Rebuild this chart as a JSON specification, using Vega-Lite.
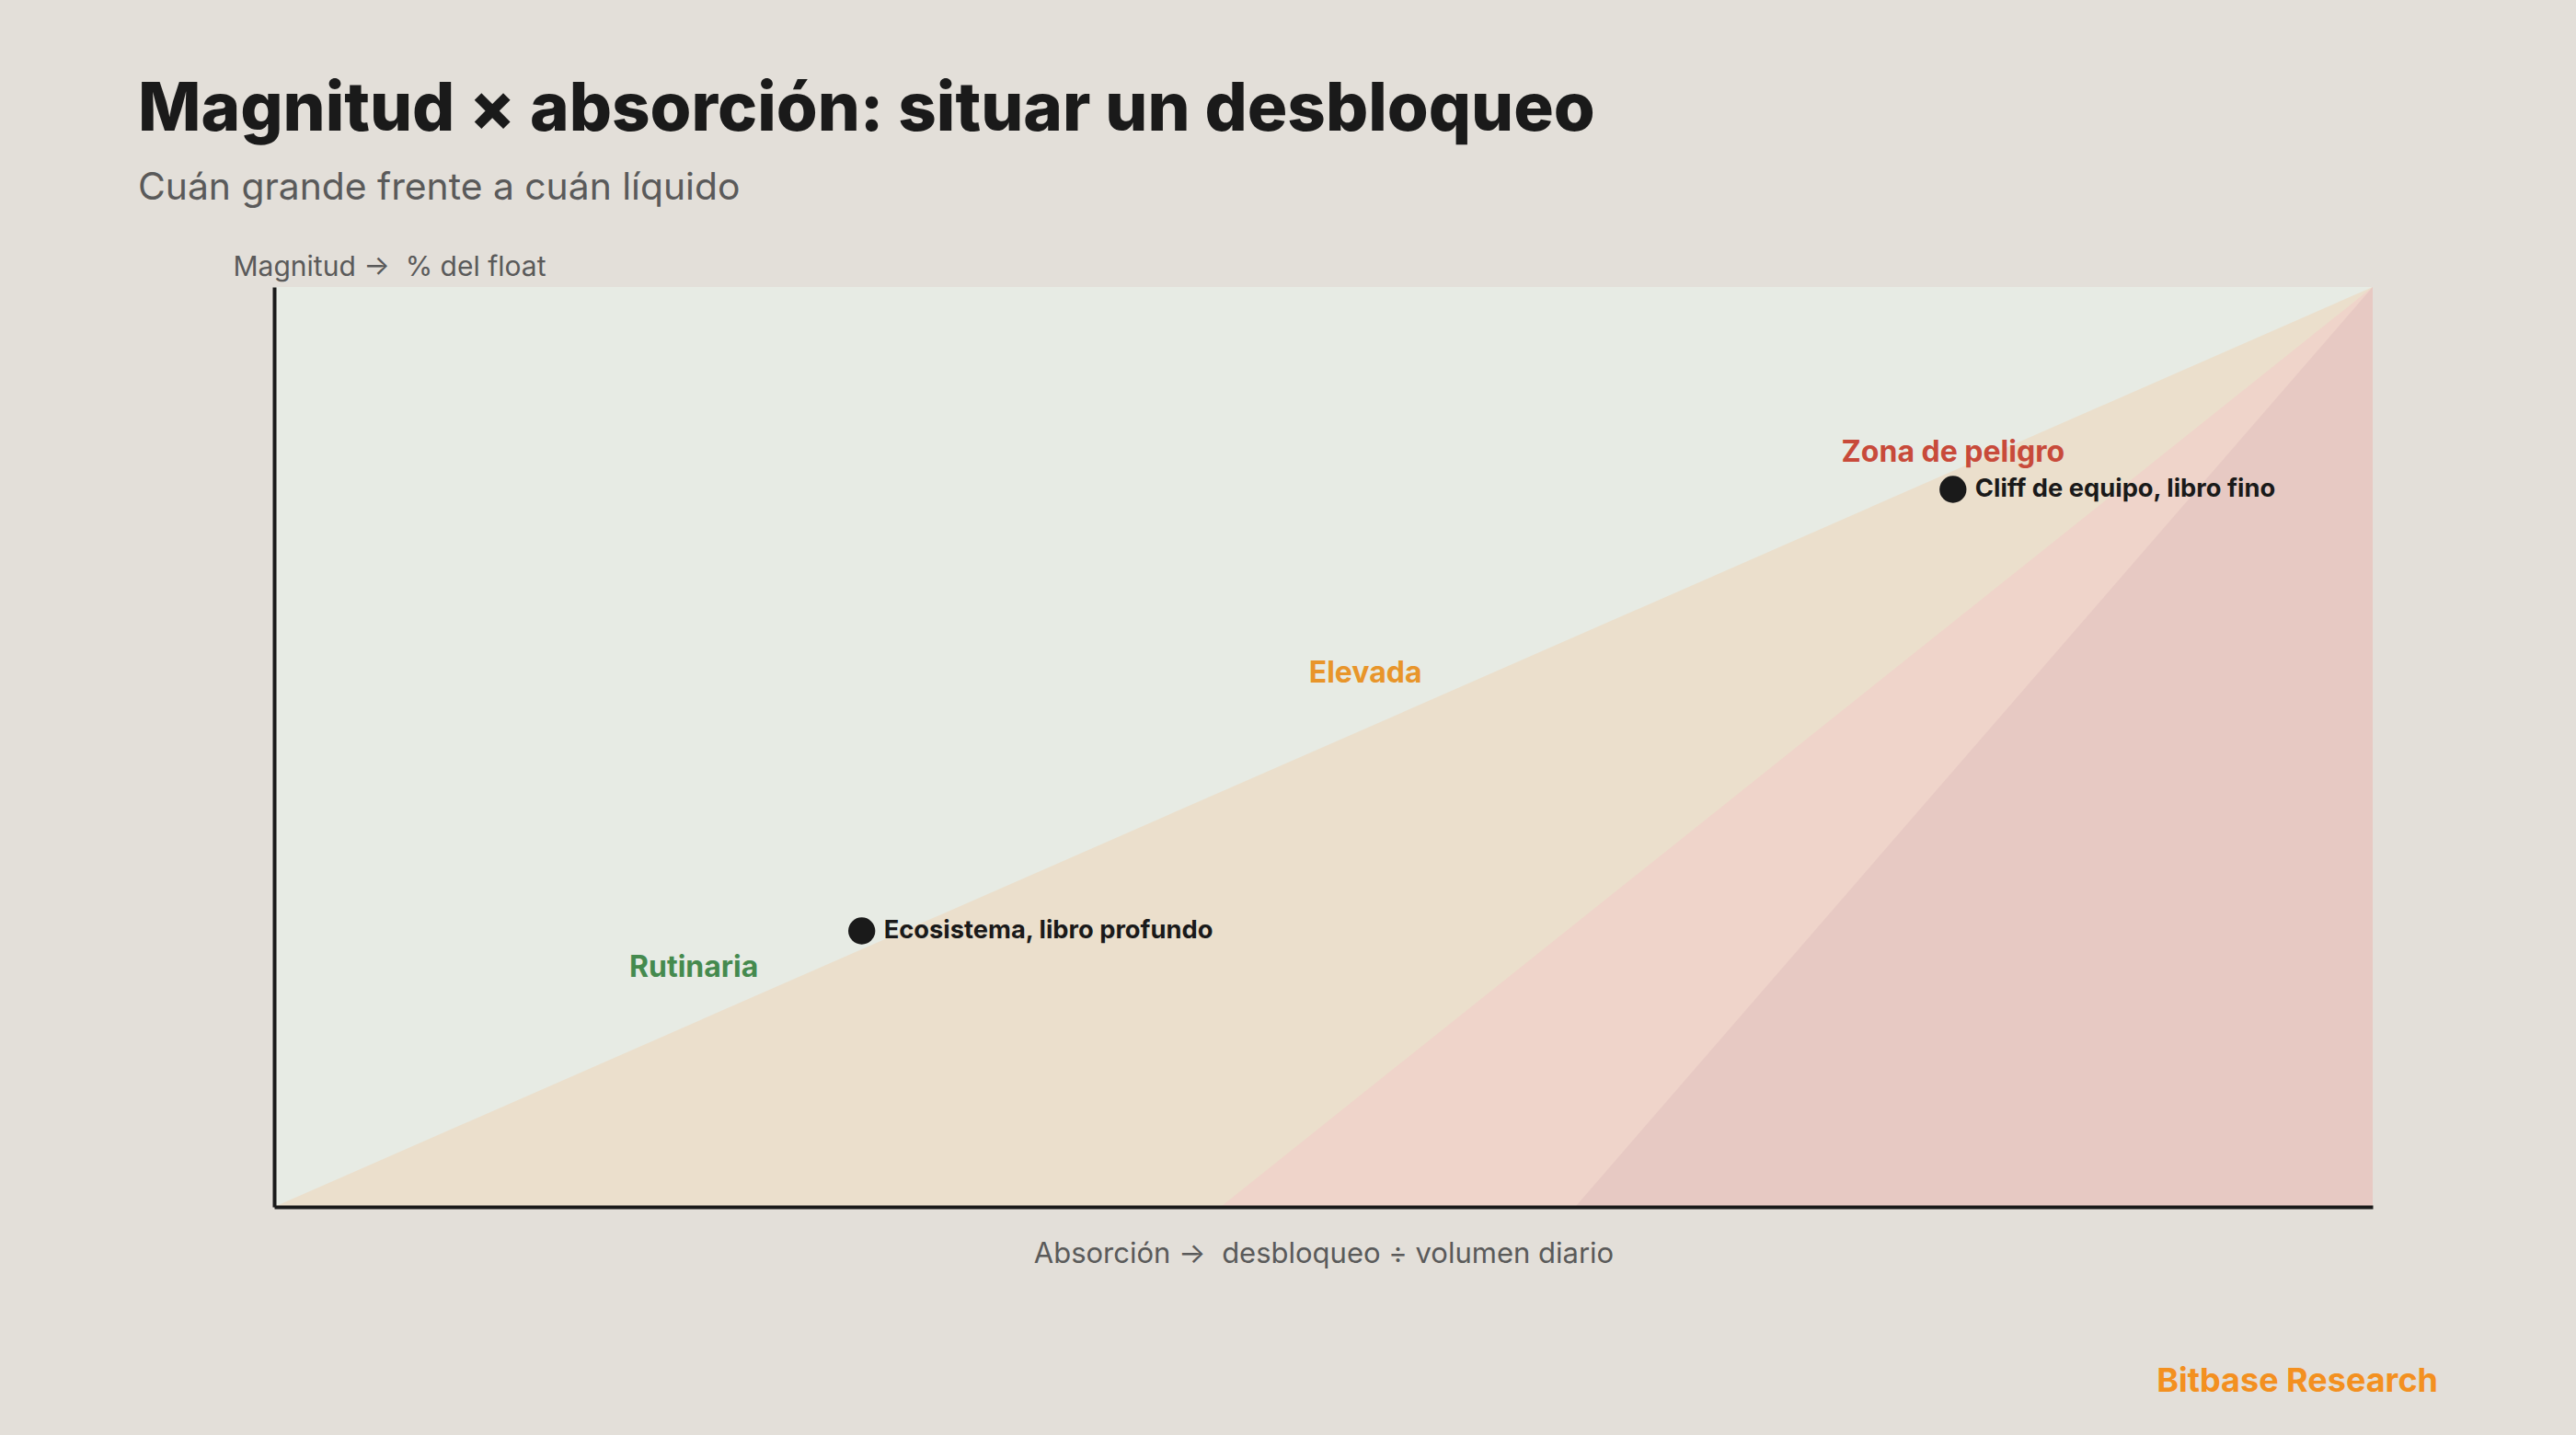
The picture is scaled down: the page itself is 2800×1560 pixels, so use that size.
{
  "$schema": "https://vega.github.io/schema/vega-lite/v6.json",
  "background": "#e3dfd9",
  "padding": {"left": 150, "top": 83, "right": 200, "bottom": 100},
  "title": {
    "text": "Magnitud × absorción: situar un desbloqueo",
    "subtitle": "Cuán grande frente a cuán líquido",
    "anchor": "start",
    "dx": -103,
    "font": "Inter",
    "fontSize": 72.6,
    "fontWeight": 800,
    "color": "#1a1a1a",
    "subtitleFont": "Inter",
    "subtitleFontSize": 40.8,
    "subtitleFontWeight": "normal",
    "subtitleColor": "#5a5a5a",
    "subtitlePadding": 28,
    "offset": 49
  },
  "datasets": {
    "zones": [
      {"zone": "Rutinaria", "x": 0, "y": 1},
      {"zone": "Rutinaria", "x": 1, "y": 1},
      {"zone": "Elevada", "x": 0, "y": 0},
      {"zone": "Elevada", "x": 1, "y": 1},
      {"zone": "Peligro", "x": 0.451, "y": 0},
      {"zone": "Peligro", "x": 1, "y": 1},
      {"zone": "Extremo", "x": 0.62, "y": 0},
      {"zone": "Extremo", "x": 1, "y": 1}
    ],
    "points": [
      {"name": "Ecosistema, libro profundo", "x": 0.28, "y": 0.30},
      {"name": "Cliff de equipo, libro fino", "x": 0.80, "y": 0.78}
    ],
    "zonelabels": [
      {"label": "Rutinaria", "x": 0.20, "y": 0.26},
      {"label": "Elevada", "x": 0.52, "y": 0.58},
      {"label": "Zona de peligro", "x": 0.80, "y": 0.82}
    ]
  },
  "vconcat": [
    {
      "width": 2281,
      "height": 1000,
      "title": {
        "text": "Bitbase Research",
        "orient": "bottom",
        "anchor": "end",
        "frame": "group",
        "dx": 71,
        "offset": 107,
        "font": "Inter",
        "fontSize": 36,
        "fontWeight": "bold",
        "color": "#f39020"
      },
      "encoding": {
        "x": {
          "field": "x",
          "type": "quantitative",
          "scale": {"domain": [0, 1], "nice": false, "zero": false},
          "axis": {
            "title": "Absorción →\u00a0\u00a0desbloqueo ÷ volumen diario",
            "orient": "bottom",
            "labels": false,
            "ticks": false,
            "grid": false,
            "domain": true,
            "domainColor": "#1a1a1a",
            "domainWidth": 4,
            "zindex": 2,
            "titleFont": "Inter",
            "titleFontSize": 31,
            "titleFontWeight": "normal",
            "titleColor": "#5a5a5a",
            "titlePadding": 36
          }
        },
        "y": {
          "field": "y",
          "type": "quantitative",
          "scale": {"domain": [0, 1], "nice": false, "zero": false},
          "axis": {
            "title": "Magnitud →\u00a0\u00a0% del float",
            "orient": "left",
            "labels": false,
            "ticks": false,
            "grid": false,
            "domain": true,
            "domainColor": "#1a1a1a",
            "domainWidth": 4,
            "zindex": 2,
            "titleFont": "Inter",
            "titleFontSize": 30,
            "titleFontWeight": "normal",
            "titleColor": "#5a5a5a",
            "titleAngle": 0,
            "titleAlign": "left",
            "titleBaseline": "alphabetic",
            "titleX": -45,
            "titleY": -13
          }
        }
      },
      "layer": [
        {
          "data": {"name": "zones"},
          "transform": [{"filter": "datum.zone === 'Rutinaria'"}],
          "mark": {"type": "area", "color": "#e7ebe4", "opacity": 1},
          "encoding": {"y2": {"datum": 0}}
        },
        {
          "data": {"name": "zones"},
          "transform": [{"filter": "datum.zone === 'Elevada'"}],
          "mark": {"type": "area", "color": "#ebdfcc", "opacity": 1},
          "encoding": {"y2": {"datum": 0}}
        },
        {
          "data": {"name": "zones"},
          "transform": [{"filter": "datum.zone === 'Peligro'"}],
          "mark": {"type": "area", "color": "#efd4ca", "opacity": 1},
          "encoding": {"y2": {"datum": 0}}
        },
        {
          "data": {"name": "zones"},
          "transform": [{"filter": "datum.zone === 'Extremo'"}],
          "mark": {"type": "area", "color": "#e7c9c3", "opacity": 1},
          "encoding": {"y2": {"datum": 0}}
        },
        {
          "data": {"name": "points"},
          "mark": {"type": "circle", "size": 860, "color": "#1a1a1a", "opacity": 1}
        },
        {
          "data": {"name": "points"},
          "mark": {"type": "text", "align": "left", "baseline": "middle", "dx": 24, "font": "Inter", "fontSize": 27.3, "fontWeight": "bold", "color": "#1a1a1a"},
          "encoding": {"text": {"field": "name"}}
        },
        {
          "data": {"name": "zonelabels"},
          "mark": {"type": "text", "align": "center", "baseline": "middle", "font": "Inter", "fontSize": 32, "fontWeight": "bold"},
          "encoding": {
            "text": {"field": "label"},
            "color": {
              "field": "label",
              "type": "nominal",
              "scale": {"domain": ["Rutinaria", "Elevada", "Zona de peligro"], "range": ["#458a4e", "#e8952a", "#c84a3a"]},
              "legend": null
            }
          }
        }
      ]
    }
  ],
  "config": {"view": {"stroke": null}}
}
